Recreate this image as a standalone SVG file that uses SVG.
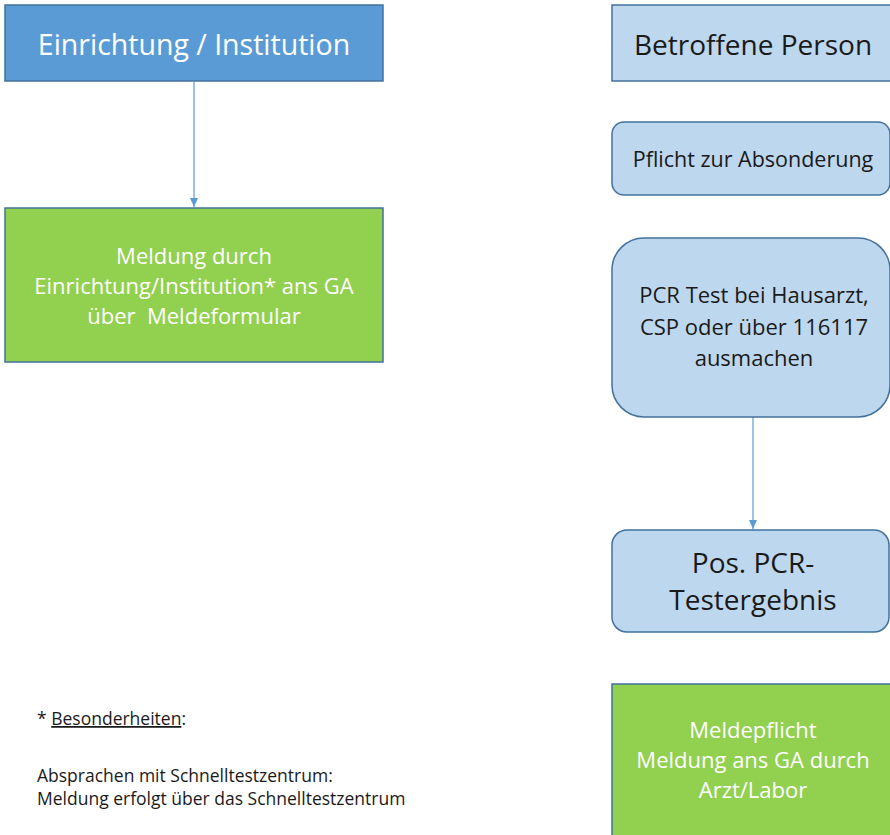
<svg xmlns="http://www.w3.org/2000/svg" width="890" height="835" viewBox="0 0 890 835">
<defs>
<style>
.t{font-family:"Open Sans","Liberation Sans",sans-serif;text-anchor:middle}
.w{fill:#ffffff}
.d{fill:#1a1a1a}
.blue{fill:#5B9BD5;stroke:#41719C;stroke-width:1.5}
.light{fill:#BDD7EE;stroke:#41719C;stroke-width:1.5}
.green{fill:#92D050;stroke:#41719C;stroke-width:1.5}
.conn{stroke:#5B9BD5;stroke-width:1.2;fill:none}
.note{font-family:"Open Sans","Liberation Sans",sans-serif;fill:#1a1a1a;font-size:17.5px}
</style>
<marker id="ah" markerWidth="10" markerHeight="10" refX="9" refY="5" orient="auto" markerUnits="userSpaceOnUse">
<path d="M0,1 L9,5 L0,9 Z" fill="#5B9BD5"/>
</marker>
</defs>
<rect width="890" height="835" fill="#ffffff"/>
<g id="connectors">
<line class="conn" x1="194" y1="82" x2="194" y2="207" marker-end="url(#ah)"/>
<line class="conn" x1="753" y1="417" x2="753" y2="529" marker-end="url(#ah)"/>
</g>
<g id="einrichtung">
<rect class="blue" x="5" y="5" width="378" height="76"/>
<text class="t w" x="194" y="55" font-size="28.5">Einrichtung / Institution</text>
</g>
<g id="meldung-einrichtung">
<rect class="green" x="5" y="208" width="378" height="154"/>
<text class="t w" font-size="22"><tspan x="194" y="264">Meldung durch</tspan><tspan x="194" y="294">Einrichtung/Institution* ans GA</tspan><tspan x="194" y="324">über&#160; Meldeformular</tspan></text>
</g>
<g id="betroffene">
<rect class="light" x="612" y="5" width="280" height="76"/>
<text class="t d" x="753" y="55" font-size="28">Betroffene Person</text>
</g>
<g id="pflicht">
<rect class="light" x="612" y="122" width="278" height="73" rx="12"/>
<text class="t d" x="753" y="167" font-size="21.5">Pflicht zur Absonderung</text>
</g>
<g id="pcr-test">
<rect class="light" x="612" y="238" width="278" height="179" rx="32"/>
<text class="t d" font-size="22"><tspan x="754" y="303">PCR Test bei Hausarzt,</tspan><tspan x="754" y="335">CSP oder über 116117</tspan><tspan x="754" y="366">ausmachen</tspan></text>
</g>
<g id="pos-pcr">
<rect class="light" x="612" y="530" width="277" height="102" rx="15"/>
<text class="t d" font-size="28"><tspan x="753" y="573">Pos. PCR-</tspan><tspan x="753" y="610">Testergebnis</tspan></text>
</g>
<g id="meldepflicht">
<rect class="green" x="612" y="684" width="280" height="160"/>
<text class="t w" font-size="22"><tspan x="753" y="738">Meldepflicht</tspan><tspan x="753" y="768">Meldung ans GA durch</tspan><tspan x="753" y="798">Arzt/Labor</tspan></text>
</g>
<g id="footnote">
<text class="note" x="37" y="725">* <tspan text-decoration="underline">Besonderheiten</tspan>:</text>
<text class="note" x="37" y="782">Absprachen mit Schnelltestzentrum:</text>
<text class="note" x="37" y="805">Meldung erfolgt über das Schnelltestzentrum</text>
</g>
</svg>
